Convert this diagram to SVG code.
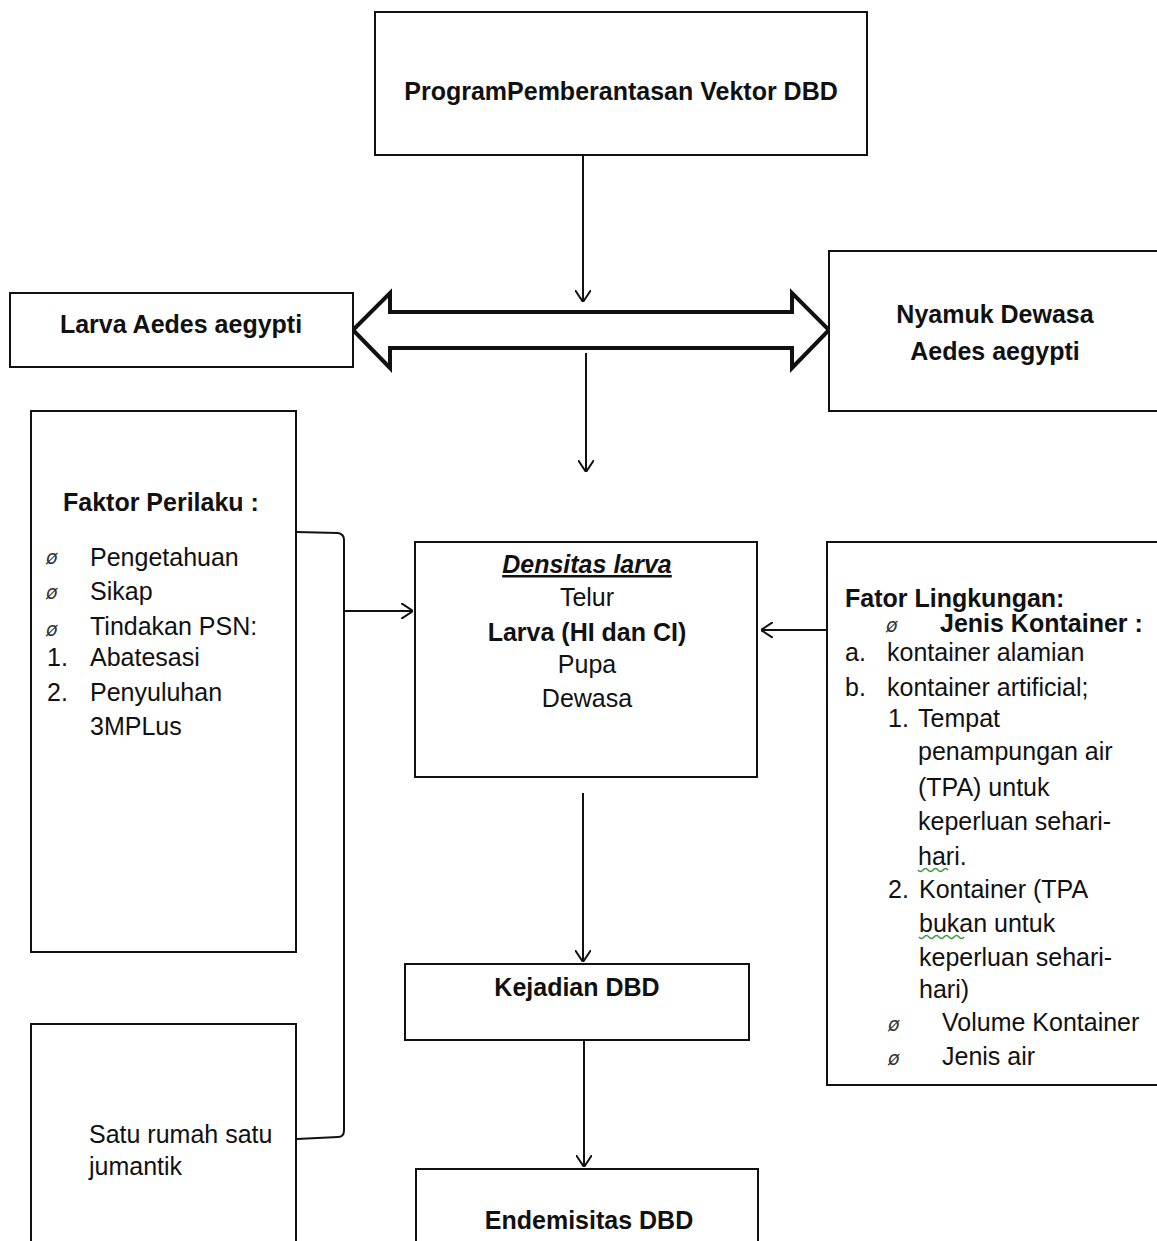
<svg xmlns="http://www.w3.org/2000/svg" width="1157" height="1241" viewBox="0 0 1157 1241">
<defs>
<style>
.box{fill:#fff;stroke:#111;stroke-width:2}
.t{font-family:"Liberation Sans",Arial,sans-serif;font-size:25px;fill:#111}
.b{font-weight:bold}
.c{text-anchor:middle}
.sym{font-family:"DejaVu Sans",sans-serif;font-size:19px;font-style:italic;fill:#333}
.con{fill:none;stroke:#111;stroke-width:2}
.sq{fill:none;stroke:#3a9a3a;stroke-width:1.5}
</style>
<marker id="ah" viewBox="0 0 12 16" refX="12" refY="8" markerWidth="12" markerHeight="16" markerUnits="userSpaceOnUse" orient="auto">
<path d="M0,0 L12,8 L0,16" fill="none" stroke="#111" stroke-width="2"/>
</marker>
</defs>
<rect width="1157" height="1241" fill="#fff"/>

<g id="connectors">
<line class="con" x1="583" y1="155" x2="583" y2="302" marker-end="url(#ah)"/>
<polygon points="353,330 390,293 390,312 792,312 792,293 829,330 792,368 792,348 390,348 390,368" fill="#fff" stroke="#111" stroke-width="4" stroke-linejoin="miter"/>
<line class="con" x1="586" y1="353" x2="586" y2="472" marker-end="url(#ah)"/>
<path class="con" d="M296,532 L338,533 Q344,534 344,540 L344,1130 Q344,1137 338,1137 L297,1139"/>
<line class="con" x1="344" y1="611" x2="413" y2="611" marker-end="url(#ah)"/>
<line class="con" x1="830" y1="630" x2="761" y2="630" marker-end="url(#ah)"/>
<line class="con" x1="583" y1="793" x2="583" y2="962" marker-end="url(#ah)"/>
<line class="con" x1="584" y1="1040" x2="584" y2="1167" marker-end="url(#ah)"/>
</g>

<g id="program">
<rect class="box" x="375" y="12" width="492" height="143"/>
<text class="t b c" x="621" y="100">ProgramPemberantasan Vektor DBD</text>
</g>

<g id="larva">
<rect class="box" x="10" y="293" width="343" height="74"/>
<text class="t b c" x="181" y="333">Larva Aedes aegypti</text>
</g>

<g id="nyamuk">
<rect class="box" x="829" y="251" width="340" height="160"/>
<text class="t b c" x="995" y="323">Nyamuk Dewasa</text>
<text class="t b c" x="995" y="360">Aedes aegypti</text>
</g>

<g id="faktor-perilaku">
<rect class="box" x="31" y="411" width="265" height="541"/>
<text class="t b" x="63" y="511">Faktor Perilaku :</text>
<text class="sym" x="46" y="564">ø</text>
<text class="t" x="90" y="566">Pengetahuan</text>
<text class="sym" x="46" y="599">ø</text>
<text class="t" x="90" y="600">Sikap</text>
<text class="sym" x="46" y="636">ø</text>
<text class="t" x="90" y="635">Tindakan PSN:</text>
<text class="t" x="47" y="666">1.</text>
<text class="t" x="90" y="666">Abatesasi</text>
<text class="t" x="47" y="701">2.</text>
<text class="t" x="90" y="701">Penyuluhan</text>
<text class="t" x="90" y="735">3MPLus</text>
</g>

<g id="satu-rumah">
<rect class="box" x="31" y="1024" width="265" height="230"/>
<text class="t" x="89" y="1143">Satu rumah satu</text>
<text class="t" x="89" y="1175">jumantik</text>
</g>

<g id="densitas">
<rect class="box" x="415" y="542" width="342" height="235"/>
<text class="t b c" x="587" y="573" font-style="italic" text-decoration="underline">Densitas larva</text>
<text class="t c" x="587" y="606">Telur</text>
<text class="t b c" x="587" y="641">Larva (HI dan CI)</text>
<text class="t c" x="587" y="673">Pupa</text>
<text class="t c" x="587" y="707">Dewasa</text>
</g>

<g id="fator-lingkungan">
<rect class="box" x="827" y="542" width="340" height="543"/>
<text class="t b" x="845" y="607">Fator Lingkungan:</text>
<text class="sym" x="886" y="632">ø</text>
<text class="t b" x="940" y="632">Jenis Kontainer :</text>
<text class="t" x="845" y="661">a.</text>
<text class="t" x="887" y="661">kontainer alamian</text>
<text class="t" x="845" y="696">b.</text>
<text class="t" x="887" y="696">kontainer artificial;</text>
<text class="t" x="888" y="727">1.</text>
<text class="t" x="918" y="727">Tempat</text>
<text class="t" x="918" y="760">penampungan air</text>
<text class="t" x="918" y="796">(TPA) untuk</text>
<text class="t" x="918" y="830">keperluan sehari-</text>
<text class="t" x="918" y="865">hari.</text>
<path class="sq" d="M918,870 q2.5,3 5,0 t5,0 t5,0 t5,0 t5,0 t5,0"/>
<text class="t" x="888" y="898">2.</text>
<text class="t" x="919" y="898">Kontainer (TPA</text>
<text class="t" x="919" y="932">bukan untuk</text>
<path class="sq" d="M919,937 q2.5,3 5,0 t5,0 t5,0 t5,0 t5,0 t5,0 t5,0 t5,0 t5,0"/>
<text class="t" x="919" y="966">keperluan sehari-</text>
<text class="t" x="919" y="998">hari)</text>
<text class="sym" x="888" y="1031">ø</text>
<text class="t" x="942" y="1031">Volume Kontainer</text>
<text class="sym" x="888" y="1065">ø</text>
<text class="t" x="942" y="1065">Jenis air</text>
</g>

<g id="kejadian">
<rect class="box" x="405" y="964" width="344" height="76"/>
<text class="t b c" x="577" y="996">Kejadian DBD</text>
</g>

<g id="endemisitas">
<rect class="box" x="416" y="1169" width="342" height="90"/>
<text class="t b c" x="589" y="1229">Endemisitas DBD</text>
</g>
</svg>
